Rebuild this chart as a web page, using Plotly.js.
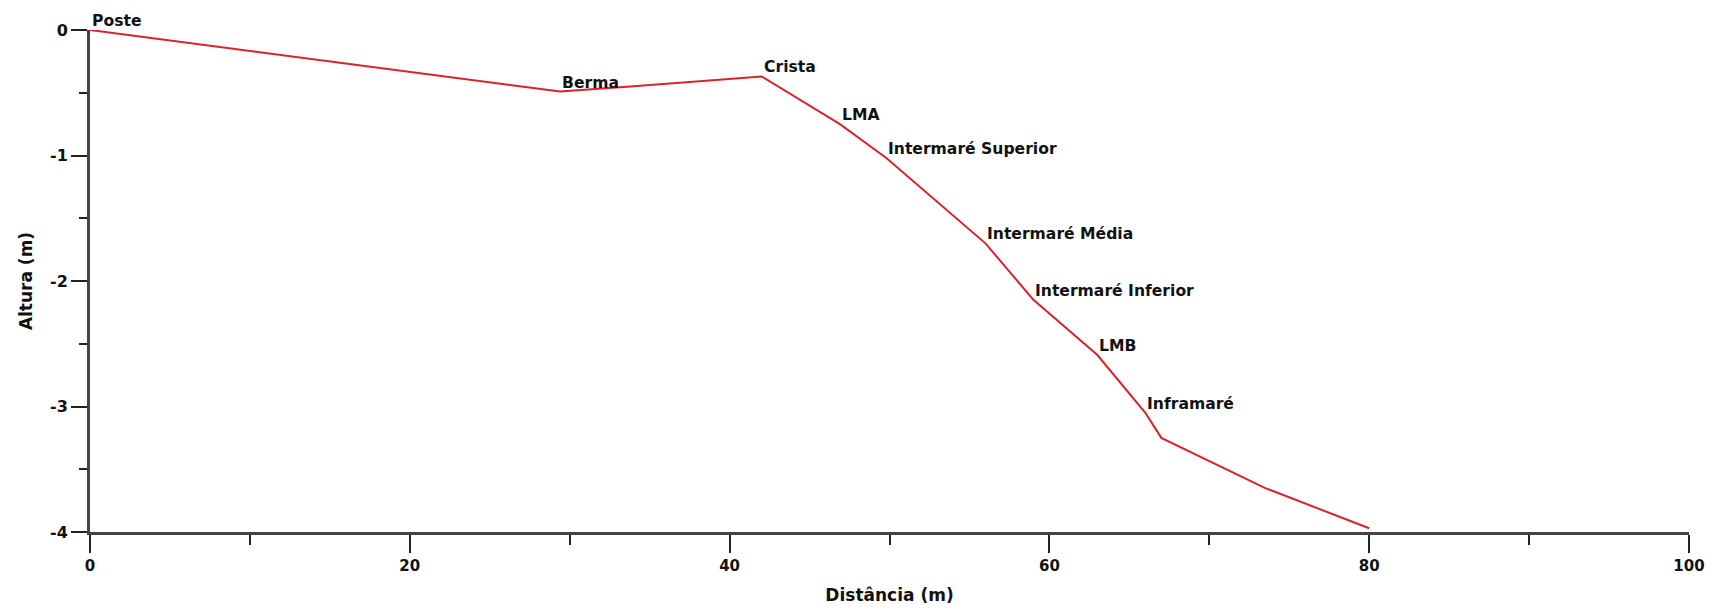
<!DOCTYPE html>
<html>
<head>
<meta charset="utf-8">
<script src="https://cdn.plot.ly/plotly-3.0.1.min.js"></script>
<style>html,body{margin:0;padding:0;background:#fff;}#chart{width:1722px;height:611px;}</style>
</head>
<body>
<div id="chart"></div>
<script>
// Beach profile: distance (m) and height (m)
const distance = [0, 29.4, 33.8, 42.0, 46.9, 49.8, 56.0, 59.0, 63.0, 66.0, 67.0, 73.5, 80.0];
const height   = [0, -0.49, -0.45, -0.37, -0.75, -1.02, -1.70, -2.15, -2.59, -3.05, -3.25, -3.65, -3.97];
const pointLabels = ["Poste", "Berma", "", "Crista", "LMA", "Intermaré Superior", "Intermaré Média",
                     "Intermaré Inferior", "LMB", "Inframaré", "", "", ""];
const xTickVals = [0, 20, 40, 60, 80, 100];
const xTickText = ["0", "20", "40", "60", "80", "100"];
const yTickVals = [0, -1, -2, -3, -4];
const yTickText = ["0", "-1", "-2", "-3", "-4"];

const FONT = "DejaVu Sans, Verdana, sans-serif";

const annotations = [];
pointLabels.forEach((t, i) => {
  if (!t) return;
  annotations.push({
    x: distance[i], y: height[i], xref: 'x', yref: 'y',
    text: t, showarrow: false, xanchor: 'left', yanchor: 'middle',
    yshift: 9, xshift: 0,
    font: {family: FONT, size: 15.6, color: '#111', weight: 700}
  });
});

const trace = {
  x: distance, y: height, type: 'scatter', mode: 'lines',
  line: {color: '#d8232c', width: 2},
  hoverinfo: 'skip'
};

const layout = {
  width: 1722, height: 611,
  margin: {l: 90, r: 33, t: 30, b: 79},
  paper_bgcolor: '#fff', plot_bgcolor: '#fff',
  showlegend: false,
  font: {family: FONT, color: '#111', weight: 700},
  xaxis: {
    range: [0, 100], tickmode: 'array', tickvals: xTickVals, ticktext: xTickText,
    ticks: 'outside', ticklen: 18, tickwidth: 2, tickcolor: '#222',
    minor: {dtick: 10, tick0: 0, ticks: 'outside', ticklen: 10, tickwidth: 2, tickcolor: '#222', showgrid: false},
    showline: true, linecolor: '#444', linewidth: 3,
    showgrid: false, zeroline: false,
    tickfont: {family: FONT, size: 15, color: '#111', weight: 700},
    title: {text: 'Distância (m)', font: {family: FONT, size: 17, color: '#111', weight: 700}, standoff: 16}
  },
  yaxis: {
    range: [-4, 0], tickmode: 'array', tickvals: yTickVals, ticktext: yTickText,
    ticks: 'outside', ticklen: 16, tickwidth: 2, tickcolor: '#222',
    minor: {dtick: 0.5, tick0: 0, ticks: 'outside', ticklen: 8, tickwidth: 2, tickcolor: '#222', showgrid: false},
    showline: true, linecolor: '#444', linewidth: 3,
    showgrid: false, zeroline: false,
    tickfont: {family: FONT, size: 16, color: '#111', weight: 700},
    title: {text: 'Altura (m)', font: {family: FONT, size: 17, color: '#111', weight: 700}, standoff: 14}
  },
  annotations: annotations
};

Plotly.newPlot('chart', [trace], layout, {displayModeBar: false, staticPlot: true});
</script>
</body>
</html>
